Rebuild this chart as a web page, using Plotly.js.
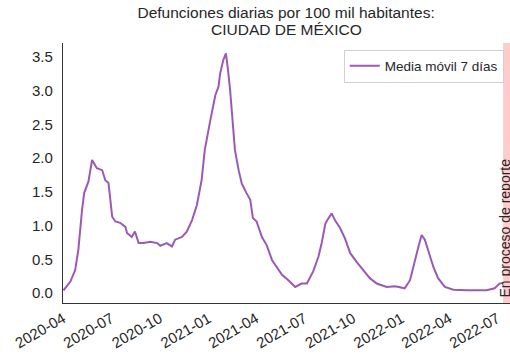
<!DOCTYPE html>
<html>
<head>
<meta charset="utf-8">
<script src="https://cdn.plot.ly/plotly-3.0.1.min.js"></script>
<style>html,body{margin:0;padding:0;background:#fff;}#chart{width:510px;height:358px;}</style>
</head>
<body>
<div id="chart"></div>
<script>
const fechas = [
  "2020-04-02","2020-04-15","2020-04-24","2020-04-30","2020-05-07","2020-05-11","2020-05-19","2020-05-26","2020-05-29",
  "2020-06-04","2020-06-14","2020-06-20","2020-06-26","2020-07-03","2020-07-09","2020-07-18","2020-07-28","2020-07-31",
  "2020-08-09","2020-08-15","2020-08-22","2020-08-31","2020-09-13","2020-09-26","2020-10-02","2020-10-14","2020-10-24",
  "2020-10-30","2020-11-12","2020-11-21","2020-12-01","2020-12-10","2020-12-19","2020-12-25","2021-01-04","2021-01-14",
  "2021-01-20","2021-01-23","2021-01-29","2021-02-03","2021-02-07","2021-02-11","2021-02-16","2021-02-20","2021-02-27",
  "2021-03-05","2021-03-14","2021-03-21","2021-03-26","2021-04-02","2021-04-12","2021-04-21","2021-05-01","2021-05-10",
  "2021-05-20","2021-06-01","2021-06-14","2021-06-26","2021-07-06","2021-07-18","2021-07-28","2021-08-03","2021-08-10",
  "2021-08-16","2021-08-22","2021-08-28","2021-09-07","2021-09-16","2021-09-26","2021-10-08","2021-10-21","2021-11-02",
  "2021-11-15","2021-12-04","2021-12-20","2022-01-07","2022-01-17","2022-01-26","2022-02-02","2022-02-08","2022-02-14",
  "2022-02-20","2022-03-02","2022-03-11","2022-03-24","2022-04-09","2022-05-04","2022-06-11","2022-06-26","2022-07-05",
  "2022-07-12"
];
const media7 = [
  0.04,0.17,0.34,0.64,1.23,1.48,1.65,1.97,1.93,
  1.85,1.82,1.67,1.63,1.13,1.06,1.04,0.98,0.89,
  0.83,0.91,0.74,0.74,0.76,0.74,0.70,0.74,0.69,
  0.79,0.83,0.91,1.08,1.30,1.67,2.12,2.54,2.93,
  3.06,3.25,3.45,3.55,3.30,3.00,2.51,2.12,1.82,
  1.62,1.48,1.38,1.11,1.06,0.83,0.71,0.49,0.39,
  0.27,0.19,0.09,0.14,0.14,0.32,0.54,0.74,1.03,
  1.11,1.18,1.08,0.96,0.81,0.59,0.46,0.34,0.22,
  0.14,0.09,0.10,0.07,0.19,0.49,0.69,0.86,0.79,
  0.64,0.39,0.22,0.09,0.05,0.04,0.04,0.07,0.14,
  0.15
];
const yTicks = [0, 0.5, 1.0, 1.5, 2.0, 2.5, 3.0, 3.5];
const xTicks = ["2020-04-01","2020-07-01","2020-10-01","2021-01-01","2021-04-01","2021-07-01","2021-10-01","2022-01-01","2022-04-01","2022-07-01"];
const xTickText = ["2020-04","2020-07","2020-10","2021-01","2021-04","2021-07","2021-10","2022-01","2022-04","2022-07"];
const tituloLinea1 = "Defunciones diarias por 100 mil habitantes:";
const tituloLinea2 = "CIUDAD DE MÉXICO";
const bandaInicio = "2022-07-12";
const textoBanda = "En proceso de reporte";
const xFin = "2022-07-25";

const trace = {
  x: fechas, y: media7, type: "scatter", mode: "lines",
  name: "Media móvil 7 días",
  line: {color: "#9b59b6", width: 2}
};

const FONT = "Liberation Sans, Arial, sans-serif";
const layout = {
  width: 510, height: 358,
  margin: {l: 63, r: 0, t: 43, b: 55},
  paper_bgcolor: "#fff", plot_bgcolor: "#fff",
  font: {family: FONT, color: "#262626", size: 15},
  title: {text: tituloLinea1, x: 0.561, xanchor: "center", xref: "container", yref: "container", y: 0.9637, yanchor: "middle", font: {size: 15.5, color: "#262626"}},
  showlegend: true,
  legend: {x: 0.986, xanchor: "right", y: 0.975, yanchor: "top", bgcolor: "#fff", bordercolor: "#d0d0d0", borderwidth: 1, font: {size: 13.5, color: "#262626"}},
  xaxis: {
    type: "date", range: ["2020-04-01", xFin],
    tickvals: xTicks, ticktext: xTickText, tickangle: -30,
    showgrid: false, zeroline: false, showline: true, linecolor: "#333", linewidth: 1.25,
    ticks: "", tickfont: {size: 15, color: "#262626"}
  },
  yaxis: {
    range: [-0.148, 3.704], tickvals: yTicks, tickformat: ".1f",
    showgrid: false, zeroline: false, showline: true, linecolor: "#333", linewidth: 1.25,
    ticks: "", tickfont: {size: 15, color: "#262626"}, ticklabelstandoff: 6
  },
  shapes: [{type: "rect", xref: "x", yref: "paper", x0: bandaInicio, x1: xFin, y0: 0, y1: 1, fillcolor: "rgba(255,0,0,0.2)", line: {width: 0}, layer: "below"}],
  annotations: [
    {text: tituloLinea2, xref: "paper", yref: "paper", x: 0.499, y: 1.0519, xanchor: "center", yanchor: "middle", showarrow: false, font: {size: 15.5, color: "#262626"}},
    {text: textoBanda, xref: "x", yref: "y", x: "2022-07-16", y: -0.1, xanchor: "center", yanchor: "bottom", textangle: -90, showarrow: false, font: {size: 14, color: "#262626"}}
  ]
};

Plotly.newPlot("chart", [trace], layout, {displayModeBar: false, staticPlot: true});
</script>
</body>
</html>
